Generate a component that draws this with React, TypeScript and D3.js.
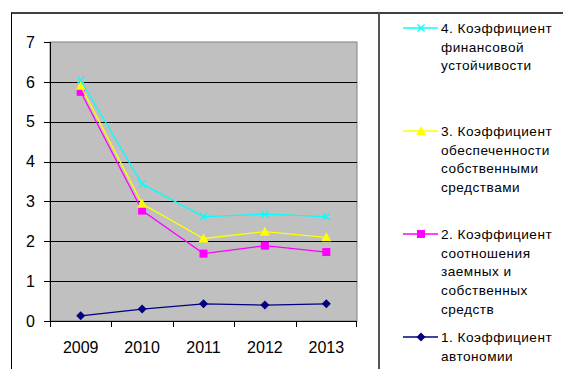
import React from "react";
import * as d3 from "d3";

const years = ["2009", "2010", "2011", "2012", "2013"];
const autonomy = [0.13, 0.3, 0.43, 0.4, 0.43];
const debtEquity = [5.75, 2.77, 1.69, 1.89, 1.73];
const ownFunds = [5.9, 2.94, 2.07, 2.24, 2.1];
const stability = [6.04, 3.44, 2.62, 2.68, 2.62];
const yTicks = [0, 1, 2, 3, 4, 5, 6, 7];

const legendLabels = [
  ["4. Коэффициент", "финансовой", "устойчивости"],
  ["3. Коэффициент", "обеспеченности", "собственными", "средствами"],
  ["2. Коэффициент", "соотношения", "заемных и", "собственных", "средств"],
  ["1. Коэффициент", "автономии"],
];

type Series = { values: number[]; color: string; marker: string };

const series: Series[] = [
  { values: autonomy, color: "#000080", marker: "diamond" },
  { values: debtEquity, color: "#FF00FF", marker: "square" },
  { values: ownFunds, color: "#FFFF00", marker: "triangle" },
  { values: stability, color: "#00FFFF", marker: "x" },
];

const W = 568;
const H = 369;
const plot = { left: 50, right: 357, top: 42, bottom: 321 };
const font = "'Liberation Sans', Arial, sans-serif";

function Marker({ kind, x, y, color }: { kind: string; x: number; y: number; color: string }) {
  if (kind === "square") {
    return <rect x={x - 4} y={y - 4} width={8} height={8} fill={color} />;
  }
  if (kind === "triangle") {
    return <path d={`M${x},${y - 5}L${x + 5},${y + 4}L${x - 5},${y + 4}Z`} fill={color} />;
  }
  if (kind === "diamond") {
    return <path d={`M${x},${y - 4.5}L${x + 4.5},${y}L${x},${y + 4.5}L${x - 4.5},${y}Z`} fill={color} />;
  }
  return (
    <path
      d={`M${x - 3.5},${y - 3.5}L${x + 3.5},${y + 3.5}M${x - 3.5},${y + 3.5}L${x + 3.5},${y - 3.5}`}
      stroke={color}
      strokeWidth={1.3}
    />
  );
}

export default function App() {
  const x = d3.scaleBand<string>().domain(years).range([plot.left, plot.right]);
  const y = d3.scaleLinear().domain([0, 7]).range([plot.bottom, plot.top]);
  const cx = (yr: string) => (x(yr) ?? 0) + x.bandwidth() / 2;
  const line = d3
    .line<number>()
    .x((_, i) => cx(years[i]))
    .y((v) => y(v));

  // legend: entries listed from series 4 down to series 1
  const legendSeries = [series[3], series[2], series[1], series[0]];
  const legendTop = [28, 131, 234, 337];
  const lineH = 18.8;

  return (
    <svg
      width={W}
      height={H}
      style={{ position: "absolute", left: 0, top: 0, background: "#fff" }}
      fontFamily={font}
    >
      {/* outer frame */}
      <line x1={11.5} y1={13} x2={11.5} y2={H} stroke="#000" strokeWidth={1} />
      <line x1={11} y1={13} x2={563} y2={13} stroke="#000" strokeWidth={1.6} />
      <line x1={379} y1={13} x2={379} y2={H} stroke="#555" strokeWidth={2} />

      {/* plot area */}
      <rect
        x={plot.left}
        y={plot.top}
        width={plot.right - plot.left}
        height={plot.bottom - plot.top}
        fill="#C0C0C0"
        stroke="#808080"
        strokeWidth={1}
      />
      {yTicks.slice(1, -1).map((t) => (
        <line key={t} x1={plot.left} x2={plot.right} y1={Math.round(y(t)) + 0.5} y2={Math.round(y(t)) + 0.5} stroke="#000" />
      ))}

      {/* axes */}
      <line x1={plot.left + 0.5} x2={plot.left + 0.5} y1={plot.top} y2={plot.bottom} stroke="#000" />
      <line x1={plot.left} x2={plot.right} y1={plot.bottom + 0.5} y2={plot.bottom + 0.5} stroke="#000" />
      {yTicks.map((t) => (
        <g key={t}>
          <line x1={plot.left - 6} x2={plot.left} y1={Math.round(y(t)) + 0.5} y2={Math.round(y(t)) + 0.5} stroke="#000" />
          <text x={35} y={y(t)} dy="0.36em" textAnchor="end" fontSize={16} fill="#000">
            {t}
          </text>
        </g>
      ))}
      {years.map((yr) => (
        <line
          key={yr}
          x1={Math.round(x(yr) ?? 0) + 0.5}
          x2={Math.round(x(yr) ?? 0) + 0.5}
          y1={plot.bottom}
          y2={plot.bottom + 6}
          stroke="#000"
        />
      ))}
      <line x1={plot.right - 0.5} x2={plot.right - 0.5} y1={plot.bottom} y2={plot.bottom + 6} stroke="#000" />
      {years.map((yr) => (
        <text key={yr} x={cx(yr)} y={352.5} textAnchor="middle" fontSize={16} fill="#000">
          {yr}
        </text>
      ))}

      {/* series */}
      {series.map((s, si) => (
        <g key={si}>
          <path d={line(s.values) ?? ""} fill="none" stroke={s.color} strokeWidth={1.3} />
          {s.values.map((v, i) => (
            <Marker key={i} kind={s.marker} x={cx(years[i])} y={y(v)} color={s.color} />
          ))}
        </g>
      ))}

      {/* legend */}
      {legendSeries.map((s, k) => (
        <g key={k}>
          <line x1={403} x2={438} y1={legendTop[k]} y2={legendTop[k]} stroke={s.color} strokeWidth={1.3} />
          <Marker kind={s.marker} x={421} y={legendTop[k]} color={s.color} />
          {legendLabels[k].map((txt, j) => (
            <text key={j} x={441} y={legendTop[k] + j * lineH} dy="0.36em" fontSize={13.6} letterSpacing={0.5} fill="#000">
              {txt}
            </text>
          ))}
        </g>
      ))}
    </svg>
  );
}
